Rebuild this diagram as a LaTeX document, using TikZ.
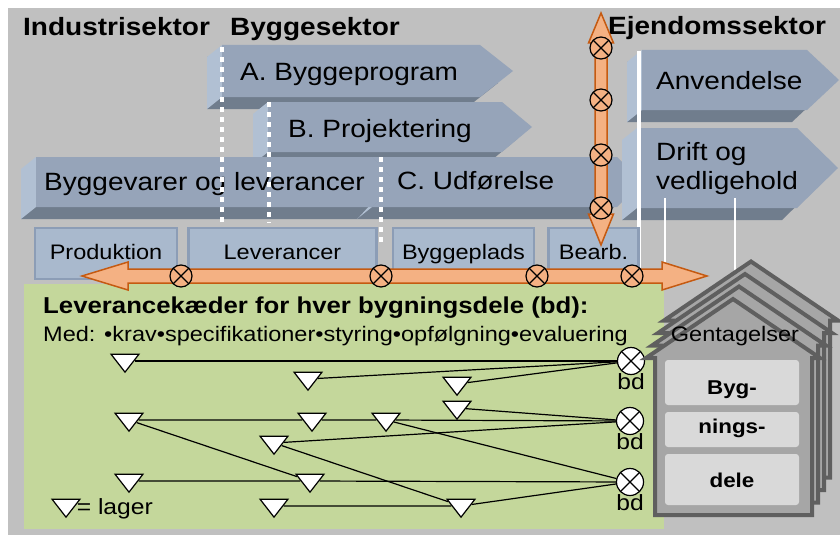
\documentclass[tikz,border=0pt]{standalone}
\usepackage{fontspec}
\setmainfont[FakeStretch=1.12]{Liberation Sans}
\usetikzlibrary{shapes.geometric,positioning}

\definecolor{baggrund}{RGB}{192,192,192}
\definecolor{pilblaa}{RGB}{150,164,185}
\definecolor{pillys}{RGB}{177,192,211}
\definecolor{pilmoerk}{RGB}{112,125,141}
\definecolor{boksfyld}{RGB}{169,185,205}
\definecolor{boksrand}{RGB}{140,157,182}
\definecolor{orangefyld}{RGB}{244,177,131}
\definecolor{orangerand}{RGB}{197,90,17}
\definecolor{groen}{RGB}{196,215,155}
\definecolor{husfyld}{RGB}{166,166,166}
\definecolor{husrand}{RGB}{95,95,95}
\definecolor{husboksfyld}{RGB}{217,217,217}

% 3D-pil: forside (#1) og lys venstreside (#2)
\newcommand{\klods}[2]{%
  \fill[pilmoerk, shift={(-15,12)}] #1;
  \fill[pillys] #2;
  \fill[pilblaa] #1;}

\begin{document}
\begin{tikzpicture}[x=1pt, y=-1pt,
    titel/.style={font=\fontsize{25}{29}\selectfont\bfseries, anchor=base west, inner sep=0},
    piltekst/.style={font=\fontsize{25}{29}\selectfont, anchor=base west, inner sep=0},
    fase/.style={draw=boksrand, line width=2.5, fill=boksfyld, minimum height=51, text height=15, text depth=4, inner sep=0, font=\fontsize{21}{25}\selectfont},
    kryds/.style={circle, draw, inner sep=0, line width=1.2, path picture={\draw[line width=1.2] (path picture bounding box.north west) -- (path picture bounding box.south east) (path picture bounding box.north east) -- (path picture bounding box.south west);}},
    okryds/.style={kryds, fill=orangefyld, minimum size=22},
    bdkryds/.style={kryds, fill=white, minimum size=27},
    bdtekst/.style={font=\fontsize{22}{26}\selectfont, inner sep=0},
    lager/.style={isosceles triangle, isosceles triangle stretches, shape border rotate=270, draw, fill=white, line width=1.2, minimum width=28, minimum height=18, inner sep=0},
    forbindelse/.style={line width=1.2},
    prikket/.style={white, line width=4.5, dash pattern=on 5 off 5},
    orangepil/.style={fill=orangefyld, draw=orangerand, line width=1.5},
    hus/.style={fill=husfyld, draw=husrand, line width=4},
    husboks/.style={fill=husboksfyld, rounded corners=3, minimum width=134, inner sep=3, font=\fontsize{20}{24}\selectfont\bfseries}]

\useasboundingbox (0,0) rectangle (840,535);
\fill[baggrund] (8,8) rectangle (840,535);

% sektorer
\node[titel] (industri) at (23,36) {Industrisektor};
\node[titel] (byggesektor) at (230,36) {Byggesektor};
\node[titel] (ejendom) at (608,35) {Ejendomssektor};

% faser
\klods{(222,45) -- (480,45) -- (513,71) -- (480,97) -- (222,97) -- cycle}{(222,45) -- (207,57) -- (207,109) -- (222,97) -- cycle}
\klods{(268,102) -- (502,102) -- (532,127) -- (502,152) -- (268,152) -- cycle}{(268,102) -- (253,114) -- (253,164) -- (268,152) -- cycle}
\klods{(372,157) -- (617,157) -- (642,182) -- (617,207) -- (372,207) -- (395,182) -- cycle}{(372,157) -- (395,182) -- (372,207) -- (357,219) -- (380,194) -- (357,169) -- cycle}
\klods{(36,157) -- (372,157) -- (395,182) -- (372,207) -- (36,207) -- cycle}{(36,157) -- (21,169) -- (21,219) -- (36,207) -- cycle}
\klods{(642,50) -- (807,50) -- (839,80) -- (807,110) -- (642,110) -- cycle}{(642,50) -- (627,62) -- (627,122) -- (642,110) -- cycle}
\klods{(637,128) -- (797,128) -- (838,168) -- (797,208) -- (637,208) -- cycle}{(637,128) -- (622,140) -- (622,220) -- (637,208) -- cycle}

\node[piltekst] (program) at (240,80) {A. Byggeprogram};
\node[piltekst] (projektering) at (288,137) {B. Projektering};
\node[piltekst] (byggevarer) at (44,190) {Byggevarer og leverancer};
\node[piltekst] (udfoerelse) at (397,189) {C. Udførelse};
\node[piltekst] (anvendelse) at (656,89) {Anvendelse};
\node[piltekst, anchor=west, align=left] (drift) at (656,169) {Drift og\\vedligehold};

% skillelinjer
\draw[prikket] (222,47) -- (222,227);
\draw[prikket] (269,102) -- (269,223);
\draw[white, line width=3.5] (639,51) -- (639,276);
\draw[white, line width=2] (665,198) -- (665,276);
\draw[white, line width=2] (735,198) -- (735,272);

% aktiviteter
\node[fase, minimum width=142] (produktion) at (106,253.5) {Produktion};
\node[fase, minimum width=188, right=9 of produktion] (leverancer) {Leverancer};
\node[fase, minimum width=141, right=14 of leverancer] (byggeplads) {Byggeplads};
\node[fase, minimum width=90, right=12 of byggeplads] (bearb) {Bearb.};
\draw[prikket] (381,157) -- (381,242);

% leverancekaeder
\fill[groen] (24,284) rectangle (664,529);

\draw[orangepil] (82,276) -- (128,262) -- (128,269) -- (662,269) -- (662,262) -- (707,276) -- (662,290) -- (662,283) -- (128,283) -- (128,290) -- cycle;
\draw[orangepil] (601,13) -- (613.5,43) -- (607,43) -- (607,214) -- (613.5,214) -- (601,245) -- (588.5,214) -- (595,214) -- (595,43) -- (588.5,43) -- cycle;
\foreach \x [count=\i] in {181,381,537,632}
  \node[okryds] (h\i) at (\x,276) {};
\foreach \y [count=\i] in {48,100,155,208}
  \node[okryds] (v\i) at (601,\y) {};

\node[anchor=base west, inner sep=0, font=\fontsize{23}{27}\selectfont\bfseries] (overskrift) at (43,313) {Leverancekæder for hver bygningsdele (bd):};
\node[anchor=base west, inner sep=0, font=\fontsize{21}{25}\selectfont] (med) at (43,341) {Med: •krav•specifikationer•styring•opfølgning•evaluering};

\node[bdkryds] (b1) at (631,361) {};
\node[bdkryds] (b2) at (630,421) {};
\node[bdkryds] (b3) at (630,482) {};
\node[bdtekst, below=2 of b1] (bd1) {bd};
\node[bdtekst, below=2 of b2] (bd2) {bd};
\node[bdtekst, below=2 of b3] (bd3) {bd};

\node[lager] (t1) at (125,361) {};
\node[lager] (t2) at (308,379) {};
\node[lager] (t3) at (457,384) {};
\node[lager] (t4) at (457,408) {};
\node[lager] (t5) at (129,420) {};
\node[lager] (t6) at (312,420) {};
\node[lager] (t7) at (386,420) {};
\node[lager] (t8) at (274,443) {};
\node[lager] (t9) at (310,481) {};
\node[lager] (t10) at (461,506) {};
\node[lager] (t11) at (129,481) {};
\node[lager] (t12) at (274,506) {};

\draw[forbindelse] (t1) -- (b1);
\draw[forbindelse] (t2) -- (b1);
\draw[forbindelse] (t3) -- (b1);
\draw[forbindelse] (t4) -- (b2);
\draw[forbindelse] (t5) -- (t6) -- (t7) -- (b2);
\draw[forbindelse] (t8) -- (b2);
\draw[forbindelse] (t5) -- (t9);
\draw[forbindelse] (t7) -- (b3);
\draw[forbindelse] (t8) -- (t10);
\draw[forbindelse] (t11) -- (t9) -- (b3);
\draw[forbindelse] (t12) -- (t10) -- (b3);

\node[lager] (leg) at (66,506) {};
\node[right=1 of leg, yshift=-3, inner sep=0, font=\fontsize{22}{26}\selectfont] (lagertekst) {= lager};

% gentagelser
\foreach \i in {3,2,1,0}
  \filldraw[hus, shift={(6*\i,-12.5*\i)}] (655,515) -- (655,358) -- (646,358) -- (733,299) -- (820,358) -- (812,358) -- (812,515) -- cycle;
\node[anchor=base, inner sep=0, font=\fontsize{21}{25}\selectfont] (gentagelser) at (735,341) {Gentagelser};
\node[husboks, minimum height=45, text height=24, text depth=0] (byg) at (732,382.5) {Byg-};
\node[husboks, minimum height=35, text height=12, text depth=5] (nings) at (732,429.5) {nings-};
\node[husboks, minimum height=51, text height=16, text depth=0] (dele) at (732,479.5) {dele};
\end{tikzpicture}
\end{document}
